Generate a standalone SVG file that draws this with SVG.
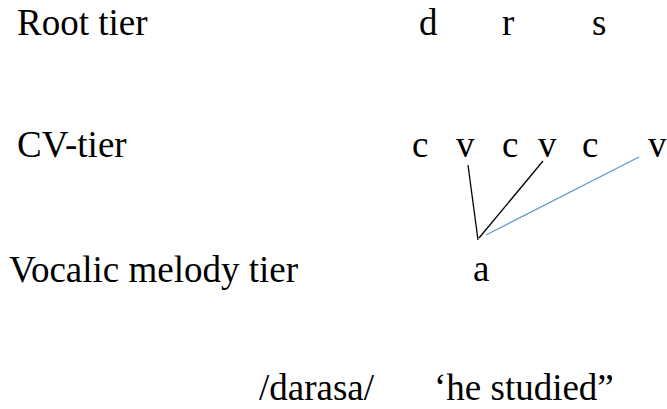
<svg xmlns="http://www.w3.org/2000/svg" width="667" height="409" viewBox="0 0 667 409">
<style>
text{font-family:"Liberation Serif","Times New Roman",serif;font-size:37px;fill:#000}
.k{stroke:#000;stroke-width:1.3;fill:none}
.b{stroke:#5b9bd5;stroke-width:1.3;fill:none}
</style>
<rect width="667" height="409" fill="#fff"/>
<g id="labels">
<text x="17" y="35">Root tier</text>
<text x="17" y="157">CV-tier</text>
<text x="9" y="282">Vocalic melody tier</text>
</g>
<g id="root"><text x="419" y="35">d</text><text x="502" y="35">r</text><text x="592" y="35">s</text></g>
<g id="cv"><text x="412" y="157">c</text><text x="456" y="157">v</text><text x="502" y="157">c</text><text x="538" y="157">v</text><text x="582" y="157">c</text><text x="648" y="157">v</text></g>
<g id="melody"><text x="473" y="281">a</text></g>
<g id="gloss"><text x="259" y="400">/darasa/</text><text x="434" y="400">‘he studied”</text></g>
<g id="connectors">
<line class="k" x1="468" y1="165" x2="478" y2="240"/>
<line class="k" x1="543" y1="161" x2="479" y2="238"/>
<line class="b" x1="639" y1="157" x2="486" y2="235"/>
</g>
</svg>
